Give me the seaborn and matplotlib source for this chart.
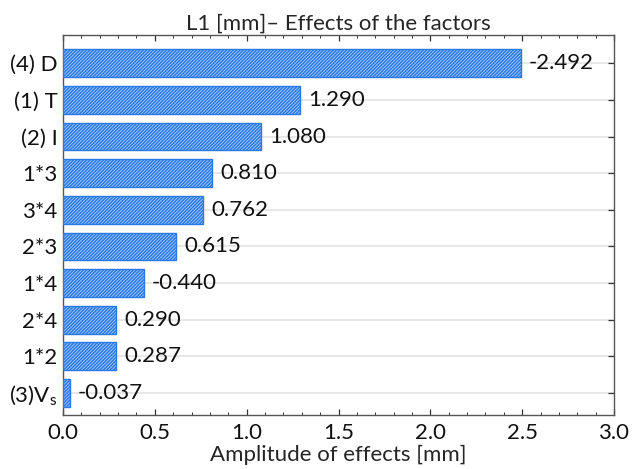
import matplotlib
matplotlib.use("Agg")
import matplotlib.pyplot as plt
import seaborn as sns
import pandas as pd
import numpy as np
from matplotlib.ticker import MultipleLocator

factors = ["(4) D", "(1) T", "(2) I", "1*3", "3*4", "2*3", "1*4", "2*4", "1*2", "(3)V$_\\mathregular{s}$"]
effects = [-2.492, 1.290, 1.080, 0.810, 0.762, 0.615, -0.440, 0.290, 0.287, -0.037]
amplitude = [abs(v) for v in effects]

sns.set_theme(style="white")
plt.rcParams['font.family'] = ['Lato', 'DejaVu Sans']
plt.rcParams['hatch.linewidth'] = 1.2
plt.rcParams['hatch.color'] = '#2a7ae6'

df = pd.DataFrame({"factor": factors, "amp": amplitude, "eff": effects})

fig = plt.figure(figsize=(6.42, 4.69), dpi=100)
ax = fig.add_axes([63/642, 1-415/469, (614-63)/642, (415-35)/469])

sns.barplot(data=df, y="factor", x="amp", orient="h", ax=ax, width=0.76,
            color="#c4ddfb", edgecolor="#2a7ae6", linewidth=1.0, saturation=1)
for p in ax.patches:
    p.set_hatch("/" * 10)
    p.set_facecolor("#c4ddfb")
    p.set_edgecolor("#2a7ae6")
    p.set_zorder(3)

fs = 16
for i, (a, e) in enumerate(zip(amplitude, effects)):
    ax.text(a + 0.045, i, f"{e:.3f}", va="center", ha="left", fontsize=fs, color="#111111", zorder=4)

ax.set_xlim(0, 3.0)
ax.set_ylim(9.6, -0.77)
ax.xaxis.set_major_locator(MultipleLocator(0.5))
ax.xaxis.set_minor_locator(MultipleLocator(0.1))
ax.grid(axis="y", color="#e3e3e3", linewidth=1.2, zorder=0)
ax.set_axisbelow(True)
ax.tick_params(axis="both", which="both", direction="in", top=True, right=True, left=True, bottom=True,
               color="#333333")
ax.tick_params(axis="both", which="major", length=4, width=0.9, labelsize=fs)
ax.tick_params(axis="x", which="minor", length=2, width=0.7)
ax.tick_params(axis="x", which="major", pad=6)
ax.tick_params(axis="y", which="major", pad=4)
for s in ax.spines.values():
    s.set_visible(True)
    s.set_color("#555555")
    s.set_linewidth(1.0)
ax.set_ylabel("")
ax.set_xlabel("Amplitude of effects [mm]", fontsize=fs, labelpad=1)
ax.set_title("L1 [mm]\u2013 Effects of the factors", fontsize=16, pad=4)
for t in ax.get_yticklabels() + ax.get_xticklabels():
    t.set_color("#111111")

fig.savefig("out.png", dpi=100)
